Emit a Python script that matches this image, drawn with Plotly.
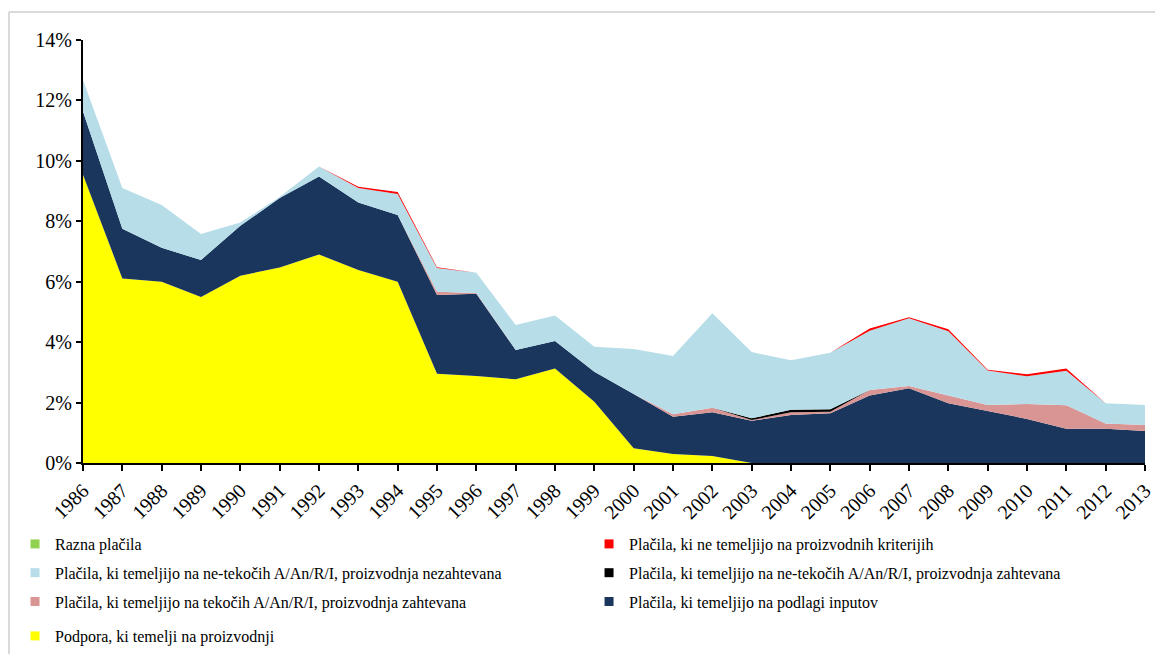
import plotly.graph_objects as go

years = list(range(1986, 2014))

podpora = [9.54, 6.11, 6.00, 5.49, 6.20, 6.47, 6.90, 6.39, 6.00, 2.95, 2.88, 2.77, 3.13, 2.03, 0.49, 0.30, 0.23, 0.0,
           0.0, 0.0, 0.0, 0.0, 0.0, 0.0, 0.0, 0.0, 0.0, 0.0]
inputi = [2.09, 1.64, 1.12, 1.23, 1.65, 2.30, 2.58, 2.23, 2.21, 2.61, 2.72, 0.97, 0.91, 0.99, 1.79, 1.23, 1.45, 1.40,
          1.59, 1.65, 2.23, 2.47, 1.98, 1.72, 1.46, 1.13, 1.13, 1.06]
tekoci_zaht = [0.0, 0.0, 0.0, 0.0, 0.0, 0.0, 0.0, 0.0, 0.0, 0.11, 0.03, 0.0, 0.0, 0.0, 0.0, 0.08, 0.15, 0.02,
               0.09, 0.05, 0.19, 0.08, 0.25, 0.20, 0.49, 0.78, 0.18, 0.20]
netekoci_zaht = [0.0, 0.0, 0.0, 0.0, 0.0, 0.0, 0.0, 0.0, 0.0, 0.0, 0.0, 0.0, 0.0, 0.0, 0.0, 0.0, 0.0, 0.06,
                 0.08, 0.08, 0.0, 0.0, 0.0, 0.0, 0.0, 0.0, 0.0, 0.0]
netekoci_nezaht = [1.05, 1.35, 1.42, 0.86, 0.11, 0.03, 0.33, 0.48, 0.69, 0.78, 0.67, 0.83, 0.84, 0.83, 1.49, 1.93, 3.13, 2.19,
                   1.64, 1.87, 1.96, 2.24, 2.13, 1.14, 0.92, 1.14, 0.67, 0.66]
neproizvodni = [0.0, 0.0, 0.0, 0.0, 0.0, 0.0, 0.0, 0.04, 0.07, 0.03, 0.0, 0.0, 0.0, 0.0, 0.0, 0.0, 0.0, 0.0,
                0.0, 0.0, 0.07, 0.03, 0.07, 0.03, 0.07, 0.08, 0.0, 0.0]
razna = [0.0] * 28

y_ticks = [0, 2, 4, 6, 8, 10, 12, 14]
y_tick_labels = ["0%", "2%", "4%", "6%", "8%", "10%", "12%", "14%"]

# (name, values, colour, legend box) -- stacking order, bottom first
series = [
    ("Podpora, ki temelji na proizvodnji", podpora, "#FFFF00", "legend3"),
    ("Plačila, ki temeljijo na podlagi inputov", inputi, "#1A365D", "legend2"),
    ("Plačila, ki temeljijo na tekočih A/An/R/I, proizvodnja zahtevana", tekoci_zaht, "#D99594", "legend"),
    ("Plačila, ki temeljijo na ne-tekočih A/An/R/I, proizvodnja zahtevana", netekoci_zaht, "#000000", "legend2"),
    ("Plačila, ki temeljijo na ne-tekočih A/An/R/I, proizvodnja nezahtevana", netekoci_nezaht, "#B7DDE8", "legend"),
    ("Plačila, ki ne temeljijo na proizvodnih kriterijih", neproizvodni, "#FF0000", "legend2"),
    ("Razna plačila", razna, "#92D050", "legend"),
]

fig = go.Figure()
for name, vals, col, lg in series:
    fig.add_trace(go.Scatter(
        x=years, y=vals, name=name, stackgroup="one", mode="lines",
        line=dict(width=0, color=col),
        fillcolor=col, showlegend=False, hoverinfo="x+y+name",
    ))
for name, vals, col, lg in reversed(series):
    fig.add_trace(go.Scatter(
        x=[None], y=[None], name=name, mode="markers",
        marker=dict(symbol="square", size=9, color=col),
        showlegend=True, legend=lg, legendgroup=name,
    ))

leg_common = dict(
    orientation="v", traceorder="grouped", tracegroupgap=5,
    yanchor="top", xanchor="left", font=dict(size=16), itemwidth=30,
    bgcolor="rgba(0,0,0,0)", borderwidth=0,
)

fig.update_layout(
    width=1155, height=646,
    margin=dict(l=75, r=18, t=32, b=191, autoexpand=False),
    paper_bgcolor="white", plot_bgcolor="white",
    font=dict(family="Liberation Serif, Times New Roman, serif", color="#000000", size=16),
    showlegend=True,
    legend=dict(x=-0.0640, y=-0.1513, **leg_common),
    legend2=dict(x=0.4765, y=-0.1513, **leg_common),
    legend3=dict(x=-0.0640, y=-0.3688, **leg_common),
    xaxis=dict(
        range=[1986, 2013], tickmode="array", tickvals=years, ticktext=[str(y) for y in years],
        tickangle=-45, ticks="outside", ticklen=6, tickwidth=2, tickcolor="black",
        showline=True, linecolor="black", linewidth=2, showgrid=False, zeroline=False,
        tickfont=dict(size=20), automargin=False,
    ),
    yaxis=dict(
        range=[0, 14], tickvals=y_ticks, ticktext=y_tick_labels,
        ticks="outside", ticklen=5, tickwidth=2, tickcolor="black",
        showline=True, linecolor="black", linewidth=2, showgrid=False, zeroline=False,
        tickfont=dict(size=20), automargin=False,
    ),
    shapes=[
        dict(type="line", xref="paper", yref="paper", x0=-0.0697, x1=1.02, y0=1.066, y1=1.066,
             line=dict(color="#D9D9D9", width=2)),
        dict(type="line", xref="paper", yref="paper", x0=-0.0697, x1=-0.0697, y0=1.066, y1=-0.5,
             line=dict(color="#D9D9D9", width=2)),
    ],
)

fig.write_html("out.html")
